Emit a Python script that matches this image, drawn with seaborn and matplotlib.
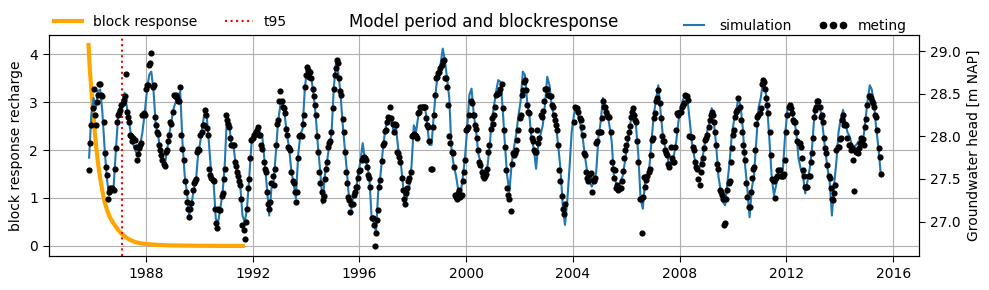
import numpy as np
import pandas as pd
import matplotlib
matplotlib.use("Agg")
import matplotlib.pyplot as plt
import matplotlib.dates as mdates
from matplotlib.lines import Line2D
from matplotlib.ticker import MultipleLocator
import seaborn as sns

# ---------------- data ----------------
# simulated groundwater head, monthly (15th), Nov 1985 - Jul 2015 [m NAP]
simulation = [
    27.75, 28.25,
    28.45, 28.33, 28.53, 28.55, 28.29, 27.86, 27.51, 27.31, 27.39, 27.39, 27.82, 28.21,
    28.31, 28.41, 28.51, 28.35, 28.17, 28.00, 27.90, 27.82, 27.78, 27.90, 28.05, 28.27,
    28.53, 28.72, 28.76, 28.53, 28.13, 28.02, 27.84, 27.72, 27.66, 27.82, 28.02, 28.17,
    28.33, 28.41, 28.45, 28.53, 27.94, 27.54, 27.35, 27.07, 27.19, 27.37, 27.47, 27.78,
    27.94, 28.13, 28.29, 28.21, 27.90, 27.54, 27.47, 27.03, 26.99, 27.15, 27.33, 27.66,
    28.25, 28.13, 27.92, 27.88, 27.66, 27.54, 27.43, 27.07, 26.99, 27.15, 27.51, 27.90,
    28.02, 28.05, 28.09, 28.02, 27.98, 27.68, 27.39, 27.07, 27.39, 27.47, 27.82, 28.18,
    28.37, 28.39, 28.25, 28.02, 27.86, 27.58, 27.45, 27.27, 27.78, 28.02, 28.09, 28.56,
    28.80, 28.78, 28.68, 28.49, 28.23, 27.86, 27.58, 27.21, 27.54, 27.70, 27.90, 28.02,
    28.56, 28.86, 28.76, 28.53, 28.17, 27.86, 27.58, 27.23, 27.15, 27.35, 27.37, 27.56,
    27.70, 27.92, 27.74, 27.66, 27.53, 27.07, 26.99, 26.88, 27.35, 27.54, 27.82, 28.05,
    28.19, 28.23, 28.19, 28.05, 28.11, 27.86, 27.74, 27.47, 27.23, 27.29, 27.41, 27.66,
    28.13, 28.05, 28.23, 28.35, 28.35, 28.35, 28.17, 27.90, 27.90, 28.25, 28.56, 28.76,
    28.84, 29.03, 28.90, 28.68, 28.45, 27.84, 27.66, 27.54, 27.37, 27.31, 27.51, 27.74,
    28.09, 28.49, 28.56, 28.25, 28.07, 27.80, 27.70, 27.56, 27.53, 27.62, 27.86, 28.17,
    28.35, 28.53, 28.66, 28.64, 28.33, 27.90, 27.54, 27.35, 27.68, 27.86, 28.02, 28.23,
    28.41, 28.76, 28.72, 28.41, 28.25, 27.96, 27.86, 27.62, 27.92, 28.02, 28.13, 28.37,
    28.70, 28.60, 28.37, 28.25, 28.13, 27.88, 27.62, 27.19, 26.96, 27.23, 27.62, 28.05,
    28.25, 28.35, 28.23, 28.13, 27.98, 27.76, 27.58, 27.47, 27.41, 27.47, 27.58, 27.98,
    28.17, 28.45, 28.35, 28.27, 28.13, 27.94, 27.54, 27.45, 27.39, 27.47, 27.54, 27.72,
    27.90, 28.05, 28.29, 28.31, 28.11, 27.78, 27.27, 27.15, 27.47, 27.51, 27.66, 27.98,
    28.27, 28.45, 28.60, 28.29, 28.02, 27.88, 27.78, 27.64, 27.74, 27.78, 27.94, 28.17,
    28.33, 28.43, 28.47, 28.45, 28.21, 27.94, 27.78, 27.64, 27.60, 27.68, 27.78, 27.94,
    28.07, 28.17, 28.33, 28.15, 27.90, 27.53, 27.37, 27.23, 27.19, 27.45, 27.70, 28.02,
    28.19, 28.31, 28.45, 28.35, 28.09, 27.66, 27.39, 27.05, 27.39, 27.54, 27.94, 28.33,
    28.45, 28.64, 28.60, 28.33, 27.94, 27.51, 27.31, 27.43, 27.60, 27.62, 27.62, 28.02,
    28.31, 28.37, 28.29, 28.19, 28.05, 27.74, 27.62, 27.54, 27.33, 27.47, 27.62, 27.84,
    28.21, 28.41, 28.43, 28.29, 28.09, 27.84, 27.64, 27.47, 27.07, 27.43, 27.70, 28.05,
    28.21, 28.31, 28.17, 28.05, 28.00, 27.90, 27.88, 27.90, 27.94, 27.90, 27.94, 28.17,
    28.41, 28.60, 28.55, 28.37, 28.09, 27.86, 27.56,
]

nan = np.nan
# measured heads ("meting"): 15 Nov 1985, then 1st and 15th of each month up to 15 Jul 2015
meting = [
    27.61, 27.92, 28.13,
    28.33, 28.56, 28.25, 28.13, 28.40, 28.49, 28.62, 28.62, 28.49, 28.47, 28.17, 27.80, 27.64, 27.55, 27.27, 27.35, 27.39, 27.37, 27.39, 27.37, 27.62, 27.86, 28.17, 28.25,
    28.27, 28.31, 28.37, 28.39, 28.43, 28.47, 28.73, 28.29, 28.23, 28.17, 28.02, 28.00, 27.94, 27.98, 27.96, 27.88, 27.72, 27.79, 27.86, 27.90, 27.92, 28.25, 28.27, 28.25,
    28.56, 28.60, 28.60, 28.84, 28.86, 28.98, 28.58, 28.60, 28.23, 28.13, 28.05, 28.03, 27.90, 27.84, 27.78, 27.72, 27.67, 27.65, 27.82, 27.84, 27.94, 28.02, 28.17, 28.15,
    28.29, 28.49, 28.47, 28.49, 28.45, 28.41, 28.41, 28.58, 28.02, 27.85, 27.72, 27.47, 27.35, 27.23, 27.15, 27.05, 27.15, 27.22, 27.37, 27.45, 27.47, 27.50, 27.82, 27.85,
    27.84, 28.02, 28.05, 28.13, 28.13, 28.31, 28.25, 28.10, 28.02, 27.62, 27.55, 27.51, 27.49, 27.47, 27.15, 26.98, 26.92, 27.15, 27.13, 27.13, 27.30, 27.33, 27.50, 27.62,
    28.25, 28.19, 28.15, 28.11, 27.98, 27.90, 27.90, 27.90, 27.70, 27.65, 27.58, 27.54, 27.47, 27.43, 27.27, 26.96, 26.90, 26.79, 27.00, 27.15, 27.39, 27.50, 27.74, 27.96,
    27.98, 28.02, 28.03, 28.05, 28.07, 28.11, 28.02, 28.02, 27.90, 27.85, 27.70, 27.62, 27.58, 27.35, 27.21, 27.15, 27.23, 27.45, 27.54, 27.43, 27.62, 27.90, 28.15, 28.19,
    28.41, 28.53, 28.41, 28.35, 28.33, 28.27, 28.09, 28.02, 27.88, 27.86, 27.84, 27.58, 27.47, 27.45, 27.35, 27.23, 27.35, 27.75, 28.00, 28.02, 28.00, 28.15, 28.25, 28.58,
    28.72, 28.82, 28.78, 28.70, 28.76, 28.68, 28.56, 28.47, 28.37, 28.25, 28.00, 27.82, 27.58, 27.45, 27.35, 27.25, 27.30, 27.50, 27.62, 27.70, 27.88, 27.92, 27.95, 28.05,
    28.33, 28.56, 28.72, 28.80, 28.90, 28.86, 28.68, 28.53, 28.49, 28.20, 28.05, 27.82, 27.58, 27.45, 27.29, 27.25, 27.11, 27.21, 27.21, 27.31, 27.35, 27.40, 27.41, 27.51,
    27.59, 27.60, 27.72, 27.74, 27.76, 27.74, 27.72, 27.64, 27.55, 27.51, 27.40, 27.04, 27.04, 26.96, 26.71, 26.86, 27.02, 27.13, 27.40, 27.49, 27.71, 27.90, 27.92, 28.06,
    28.07, 28.17, 28.23, 28.21, 28.35, 28.21, 28.15, 28.05, 28.15, 28.13, 27.82, 27.80, 27.76, 27.70, 27.51, 27.37, 27.27, 27.21, 27.33, 27.39, 27.47, 27.51, 27.58, 28.00,
    28.02, 28.03, 28.02, 28.00, 27.98, 28.27, 28.29, 28.35, 28.35, 28.35, 28.35, 28.35, 28.21, 28.13, 28.11, 27.94, 27.62, 27.62, 28.11, 28.25, 28.49, 28.68, 28.70, 28.74,
    28.76, 28.80, 28.84, 28.88, 28.90, 28.68, 28.68, 28.58, 28.37, 28.00, 27.92, 27.82, 27.80, 27.64, 27.31, 27.29, 27.27, 27.33, 27.37, 27.29, 27.31, 27.47, 27.58, 27.72,
    28.07, 28.09, 28.11, 28.25, 28.41, 28.39, 28.25, 28.25, 28.13, 28.09, 27.98, 27.84, 27.70, 27.66, 27.58, 27.54, 27.51, 27.53, 27.56, 27.62, 27.82, 27.90, 28.09, 28.21,
    28.15, 28.25, 28.35, 28.49, 28.50, 28.51, 28.51, 28.56, 28.62, 28.33, 28.07, 27.88, 27.60, 27.39, 27.31, 27.27, 27.12, 27.68, 27.80, 27.78, 27.80, 27.84, 27.96, 28.07,
    28.21, 28.25, 28.49, 28.54, 28.64, 28.66, 28.54, 28.37, 28.29, 28.27, 28.07, 27.98, 27.94, 27.84, 27.82, 27.82, 28.07, 27.92, 27.98, 28.25, 28.23, 28.30, 28.41, 28.56,
    28.56, 28.56, 28.49, 28.47, 28.47, 28.37, 28.35, 28.25, 28.19, 28.13, 28.07, 27.90, 27.60, 27.47, 27.30, 27.15, 27.09, 27.21, nan, nan, nan, nan, nan, nan,
    nan, 28.17, 28.35, 28.33, 28.33, 28.29, 28.21, 28.19, 28.11, 28.02, 27.80, 27.78, 27.58, 27.51, 27.47, 27.55, 27.57, 27.35, 27.49, 27.47, 27.51, 27.92, 27.94, 28.05,
    28.05, 28.05, 28.21, 28.41, 28.35, 28.35, 28.29, 28.25, 28.23, 28.23, 28.05, 27.70, 27.62, 27.51, 27.60, 27.39, 27.43, 27.37, 27.39, 27.39, 27.47, 27.59, 27.74, 27.84,
    27.90, 27.98, 28.05, 28.12, 28.23, 28.29, 28.33, 28.25, 28.19, 28.17, 27.94, 27.70, 27.27, 27.27, 26.86, 27.29, 27.52, 27.41, 27.49, 27.53, 27.58, 27.62, 27.78, 27.96,
    27.98, 28.21, 28.27, 28.41, 28.45, 28.54, 28.39, 28.21, 28.00, 27.94, 27.94, 27.84, 27.80, 27.78, 27.68, 27.64, 27.88, 27.74, 27.70, 27.70, 27.88, 28.07, 28.27, 28.25,
    28.29, 28.29, 28.35, 28.37, 28.39, 28.49, 28.47, 28.47, 28.43, 28.00, 27.99, 27.99, 27.88, 27.84, 27.70, 27.64, 27.62, 27.50, 27.43, 27.58, 27.68, 27.74, 27.86, 27.96,
    27.98, 28.02, 28.11, 28.19, 28.25, 28.29, 28.25, 28.17, 28.05, 27.90, 27.68, 27.62, 27.37, 27.35, 27.31, 27.27, 26.96, 26.98, 27.26, 27.37, 27.45, 27.47, 27.70, 27.86,
    28.02, 28.07, 28.23, 28.29, 28.31, 28.45, 28.35, 28.19, 28.05, 27.90, 27.82, 27.72, 27.45, 27.29, 27.17, 27.17, 27.35, 27.51, 27.62, 27.64, 27.84, 28.15, 28.23, 28.25,
    28.27, 28.33, 28.62, 28.66, 28.64, 28.56, 28.45, 28.37, 28.27, 28.05, 27.78, 27.50, 27.49, 27.47, 27.28, 27.51, 27.54, 27.60, 27.60, 27.54, 27.54, 27.54, 27.56, 27.72,
    28.05, 28.25, 28.35, 28.37, 28.33, 28.27, 28.19, 28.17, 28.17, 28.05, 27.94, 27.92, 27.92, 27.88, 27.74, 27.60, 27.53, 27.40, 27.40, 27.40, 27.54, 27.54, 27.70, 27.80,
    27.98, 28.23, 28.31, 28.35, 28.41, 28.41, 28.35, 28.23, 28.25, 28.17, 27.98, 27.86, 27.80, 27.66, 27.54, 27.51, 27.39, 27.27, 27.25, 27.33, 27.43, 27.84, 27.88, 27.88,
    27.97, 27.98, 28.19, 28.25, 28.13, 28.15, 28.13, 27.98, 27.90, 27.90, 27.84, 27.86, 27.72, 27.36, 27.84, 27.82, 27.80, 27.86, 27.92, 27.98, 27.92, 27.97, 27.90, 28.11,
    28.20, 28.37, 28.47, 28.47, 28.45, 28.41, 28.39, 28.35, 28.25, 28.23, 28.07, 27.86, 27.76, 27.56,
]

# block response of the recharge (time since start in years, response)
block_t_years = [0, 0.05, 0.1, 0.15, 0.2, 0.25, 0.3, 0.35, 0.4, 0.45, 0.5, 0.6, 0.7,
                 0.8, 0.9, 1.0, 1.1, 1.25, 1.5, 1.75, 2.0, 2.5, 3.0, 4.0, 5.0, 5.78]
block_response = [4.19, 3.68, 3.30, 2.95, 2.62, 2.28, 2.00, 1.75, 1.55, 1.37, 1.20, 0.92,
                  0.74, 0.60, 0.50, 0.42, 0.34, 0.25, 0.14, 0.08, 0.05, 0.025, 0.012,
                  0.004, 0.001, 0.0]
block_start = "1985-11-07"
t95_days = 460

# ---------------- dates ----------------
sim_dates = pd.date_range("1985-11-01", "2015-07-01", freq="MS") + pd.Timedelta(days=14)
months = pd.date_range("1985-12-01", "2015-07-01", freq="MS")
obs_dates = [pd.Timestamp("1985-11-15")]
for m in months:
    obs_dates += [m, m + pd.Timedelta(days=14)]
obs_dates = pd.DatetimeIndex(obs_dates)
assert len(sim_dates) == len(simulation), (len(sim_dates), len(simulation))
assert len(obs_dates) == len(meting), (len(obs_dates), len(meting))

t0 = pd.Timestamp(block_start)
block_dates = t0 + pd.to_timedelta(np.array(block_t_years) * 365.25, unit="D")
t95_date = t0 + pd.Timedelta(days=t95_days)

# ---------------- figure ----------------
plt.rcParams["font.family"] = ["DejaVu Sans"]
plt.rcParams["font.size"] = 10

fig = plt.figure(figsize=(9.89, 2.90), dpi=100)
ax = fig.add_axes([49 / 989, 34 / 290, 870 / 989, 221 / 290])
ax2 = ax.twinx()

sns.lineplot(x=block_dates, y=block_response, ax=ax, color="orange",
             linewidth=3, legend=False)
ax.axvline(t95_date, color="red", linestyle=":", linewidth=1.5)

sns.lineplot(x=sim_dates, y=simulation, ax=ax2, color="#1f77b4",
             linewidth=1.5, legend=False)
sns.scatterplot(x=obs_dates, y=meting, ax=ax2, color="black", s=20,
                linewidth=0, legend=False, zorder=3)

ax.set_xlim(pd.Timestamp("1984-05-15"), pd.Timestamp("2016-12-20"))
ax.set_ylim(-0.21, 4.40)
ax2.set_ylim(26.595, 29.19)

ax.xaxis.set_major_locator(mdates.YearLocator(4))
ax.xaxis.set_major_formatter(mdates.DateFormatter("%Y"))
ax.yaxis.set_major_locator(MultipleLocator(1))
ax2.yaxis.set_major_locator(MultipleLocator(0.5))
ax2.yaxis.set_major_formatter(matplotlib.ticker.FormatStrFormatter("%.1f"))

ax.grid(True, color="#b0b0b0", linewidth=0.8)
ax2.grid(False)
for a in (ax, ax2):
    a.tick_params(labelsize=10, length=4.5)
    a.set_xlabel("")

ax.set_ylabel("block response recharge", fontsize=10)
ax2.set_ylabel("Groundwater head [m NAP]", fontsize=10)
ax.set_title("Model period and blockresponse", fontsize=12)

h_left = [Line2D([], [], color="orange", linewidth=3),
          Line2D([], [], color="red", linestyle=":", linewidth=1.5)]
leg1 = ax.legend(h_left, ["block response", "t95"], ncol=2, frameon=False,
                 loc="center left", bbox_to_anchor=(0.049, 0.925),
                 bbox_transform=fig.transFigure, borderaxespad=0, fontsize=10)

h_right = [Line2D([], [], color="#1f77b4", linewidth=1.5),
           Line2D([], [], linestyle="none", marker="o", markersize=4.5,
                  color="black")]
leg2 = ax2.legend(h_right, ["simulation", "meting"], ncol=2, frameon=False,
                  numpoints=3, loc="center right",
                  bbox_to_anchor=(0.9228, 0.912), bbox_transform=fig.transFigure,
                  borderaxespad=0, fontsize=10)

fig.savefig("out.png", dpi=100)
